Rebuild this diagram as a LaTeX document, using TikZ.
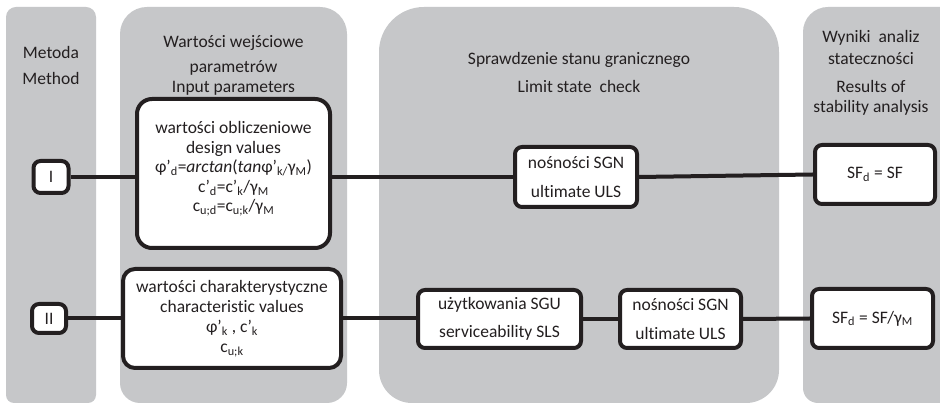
\documentclass[tikz,border=0pt]{standalone}
\usepackage{fontspec}
\setmainfont{Carlito}[Ligatures=CommonOff]
\definecolor{colbg}{RGB}{198,199,201}
\definecolor{ink}{RGB}{35,31,32}
\newcommand\colpanel[6]{%
 \fill[colbg] (#1,#2+#6) -- (#1,#4-#5) arc[start angle=180,end angle=90,radius=#5pt] -- (#3-#5,#4) arc[start angle=90,end angle=0,radius=#5pt] -- (#3,#2+#6) arc[start angle=0,end angle=-90,radius=#6pt] -- (#1+#6,#2) arc[start angle=270,end angle=180,radius=#6pt] -- cycle;}
\tikzset{
 box/.style={draw=ink, line width=4pt, fill=white, rounded corners=7pt, align=center, inner sep=0pt, text=ink, font=\fontsize{17.5}{28.5}\selectfont},
 link/.style={draw=ink, line width=4pt},
 hdr/.style={anchor=base, text=ink, inner sep=0pt, font=\fontsize{17.5}{21}\selectfont},
 txt/.style={align=center, text=ink, inner sep=0pt}
}
\begin{document}
\begin{tikzpicture}[x=1pt,y=1pt]
\useasboundingbox (0,0) rectangle (940,404);
\fill[white] (0,0) rectangle (940,404);
\clip (0,0) rectangle (940,404);
% columns
\colpanel{6}{1}{96}{397}{10}{8}
\colpanel{120}{1}{347}{397}{27}{20}
\colpanel{379}{1}{779}{397}{45}{33}
\colpanel{803}{1}{990}{397}{25}{15}
% headers
\node[hdr] (h1a) at (51,345) {Metoda};
\node[hdr] (h1b) at (51,319) {Method};
\node[hdr] (h2a) at (233.5,356) {Wartości wejściowe};
\node[hdr] (h2b) at (233.5,331) {parametrów};
\node[hdr] (h2c) at (233.5,311) {Input parameters};
\node[hdr] (h3a) at (579,339) {Sprawdzenie stanu granicznego};
\node[hdr] (h3b) at (579,311) {Limit state~ check};
\node[hdr] (h4a) at (871,361) {Wyniki~ analiz};
\node[hdr] (h4b) at (871,339) {stateczności};
\node[hdr] (h4c) at (871,311) {Results of};
\node[hdr] (h4d) at (871,291) {stability analysis};
% row 1
\node[box, minimum width=35pt, minimum height=32pt] (m1) at (51,227) {I};
\node[box, rounded corners=15pt, minimum width=193pt, minimum height=149pt] (design) at (233.5,230.5) {};
\node[txt, font=\fontsize{17.5}{19.5}\selectfont] (designtxt) at (233.5,235) {wartości obliczeniowe\\design values\\φ'\textsubscript{d}=\textit{arctan}(\textit{tan}φ'\textsubscript{k/}γ\textsubscript{M})\\c'\textsubscript{d}=c'\textsubscript{k}/γ\textsubscript{M}\\c\textsubscript{u;d}=c\textsubscript{u;k}/γ\textsubscript{M}};
\node[box, minimum width=122pt, minimum height=60pt] (nos1) at (576,227) {nośności SGN\\ultimate ULS};
\node[box, minimum width=120pt, minimum height=59pt] (sf1) at (875,229.5) {SF\textsubscript{d} = SF};
\draw[link] (m1.east) -- (m1.east -| design.west);
\draw[link] (nos1.west -| design.east) -- (nos1.west);
\draw[link] (nos1.east) -- (sf1.west);
% row 2
\node[box, minimum width=34pt, minimum height=29pt] (m2) at (49,85.5) {II};
\node[box, rounded corners=12pt, minimum width=218pt, minimum height=99pt, font=\fontsize{17.5}{20.3}\selectfont] (char) at (232,85.5) {wartości charakterystyczne\\characteristic values\\φ'\textsubscript{k} , c'\textsubscript{k}\\c\textsubscript{u;k}};
\node[box, minimum width=163pt, minimum height=58pt] (uzyt) at (499.5,85) {użytkowania SGU\\serviceability SLS};
\node[box, minimum width=121pt, minimum height=58pt] (nos2) at (680.5,85) {nośności SGN\\ultimate ULS};
\node[box, minimum width=121pt, minimum height=59pt] (sf2) at (872.5,85.5) {SF\textsubscript{d} = SF/γ\textsubscript{M}};
\draw[link] (m2.east) -- (m2.east -| char.west);
\draw[link] (char.east) -- (char.east -| uzyt.west);
\draw[link] (uzyt.east) -- (nos2.west);
\draw[link] (nos2.east) -- (sf2.west);
\end{tikzpicture}
\end{document}
